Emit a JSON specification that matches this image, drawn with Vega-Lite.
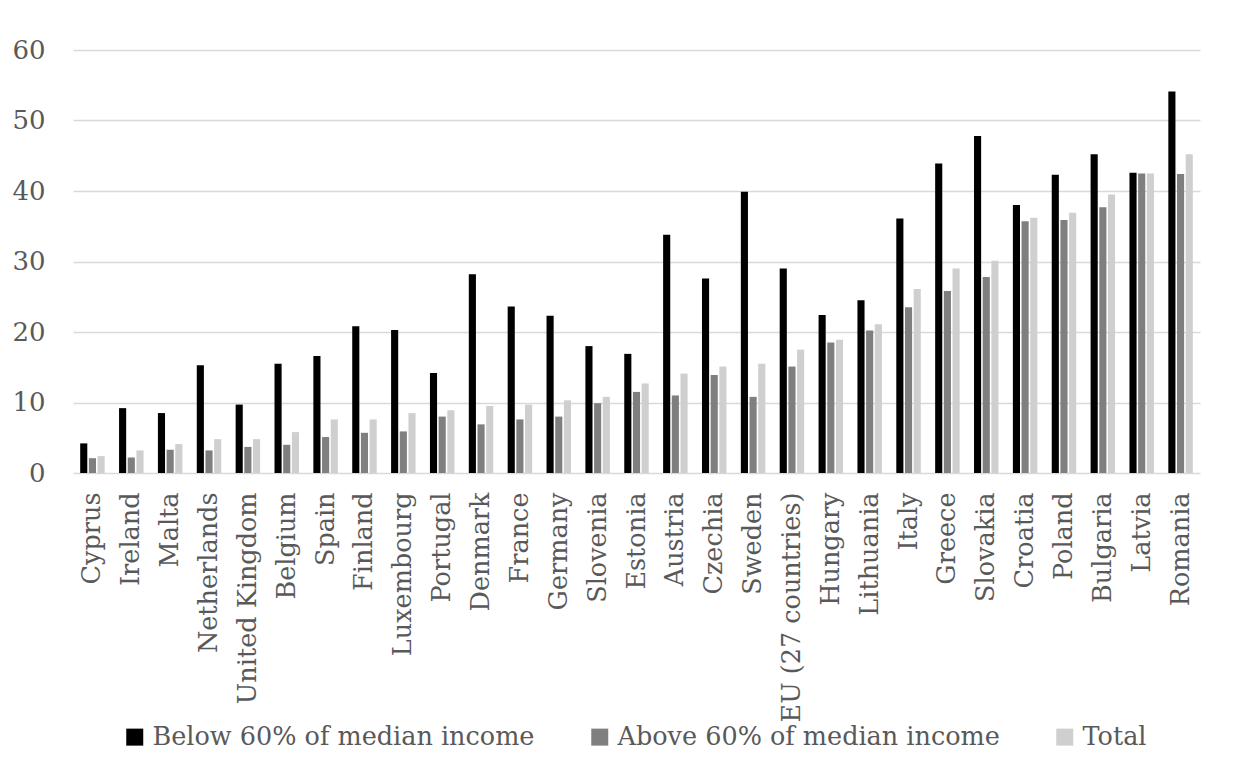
{
  "$schema": "https://vega.github.io/schema/vega-lite/v6.json",
  "width": 1127,
  "height": 423,
  "autosize": {"type": "none"},
  "padding": {"left": 73, "top": 50, "right": 39, "bottom": 306},
  "background": "white",
  "data": {
    "values": [
      {"country": "Cyprus", "Below 60% of median income": 4.2, "Above 60% of median income": 2.1, "Total": 2.4},
      {"country": "Ireland", "Below 60% of median income": 9.2, "Above 60% of median income": 2.2, "Total": 3.2},
      {"country": "Malta", "Below 60% of median income": 8.5, "Above 60% of median income": 3.3, "Total": 4.1},
      {"country": "Netherlands", "Below 60% of median income": 15.3, "Above 60% of median income": 3.2, "Total": 4.8},
      {"country": "United Kingdom", "Below 60% of median income": 9.7, "Above 60% of median income": 3.7, "Total": 4.8},
      {"country": "Belgium", "Below 60% of median income": 15.5, "Above 60% of median income": 4.0, "Total": 5.8},
      {"country": "Spain", "Below 60% of median income": 16.6, "Above 60% of median income": 5.1, "Total": 7.6},
      {"country": "Finland", "Below 60% of median income": 20.8, "Above 60% of median income": 5.7, "Total": 7.6},
      {"country": "Luxembourg", "Below 60% of median income": 20.3, "Above 60% of median income": 5.9, "Total": 8.5},
      {"country": "Portugal", "Below 60% of median income": 14.2, "Above 60% of median income": 8.0, "Total": 8.9},
      {"country": "Denmark", "Below 60% of median income": 28.2, "Above 60% of median income": 6.9, "Total": 9.5},
      {"country": "France", "Below 60% of median income": 23.6, "Above 60% of median income": 7.6, "Total": 9.7},
      {"country": "Germany", "Below 60% of median income": 22.3, "Above 60% of median income": 8.0, "Total": 10.3},
      {"country": "Slovenia", "Below 60% of median income": 18.0, "Above 60% of median income": 9.9, "Total": 10.8},
      {"country": "Estonia", "Below 60% of median income": 16.9, "Above 60% of median income": 11.5, "Total": 12.7},
      {"country": "Austria", "Below 60% of median income": 33.8, "Above 60% of median income": 11.0, "Total": 14.1},
      {"country": "Czechia", "Below 60% of median income": 27.6, "Above 60% of median income": 13.9, "Total": 15.1},
      {"country": "Sweden", "Below 60% of median income": 39.9, "Above 60% of median income": 10.8, "Total": 15.5},
      {"country": "EU (27 countries)", "Below 60% of median income": 29.0, "Above 60% of median income": 15.1, "Total": 17.5},
      {"country": "Hungary", "Below 60% of median income": 22.4, "Above 60% of median income": 18.5, "Total": 18.9},
      {"country": "Lithuania", "Below 60% of median income": 24.5, "Above 60% of median income": 20.2, "Total": 21.1},
      {"country": "Italy", "Below 60% of median income": 36.1, "Above 60% of median income": 23.5, "Total": 26.1},
      {"country": "Greece", "Below 60% of median income": 43.9, "Above 60% of median income": 25.8, "Total": 29.0},
      {"country": "Slovakia", "Below 60% of median income": 47.8, "Above 60% of median income": 27.8, "Total": 30.1},
      {"country": "Croatia", "Below 60% of median income": 38.0, "Above 60% of median income": 35.7, "Total": 36.2},
      {"country": "Poland", "Below 60% of median income": 42.3, "Above 60% of median income": 35.9, "Total": 36.9},
      {"country": "Bulgaria", "Below 60% of median income": 45.2, "Above 60% of median income": 37.7, "Total": 39.5},
      {"country": "Latvia", "Below 60% of median income": 42.6, "Above 60% of median income": 42.5, "Total": 42.5},
      {"country": "Romania", "Below 60% of median income": 54.1, "Above 60% of median income": 42.4, "Total": 45.2}
    ]
  },
  "transform": [
    {"fold": ["Below 60% of median income", "Above 60% of median income", "Total"], "as": ["group", "value"]}
  ],
  "mark": {"type": "bar"},
  "encoding": {
    "x": {
      "field": "country",
      "type": "nominal",
      "sort": null,
      "scale": {"paddingInner": 0.37, "paddingOuter": 0.185},
      "axis": {
        "title": null,
        "labelAngle": -90,
        "labelFont": "DejaVu Serif",
        "labelFontSize": 25.5,
        "labelColor": "#595959",
        "labelPadding": 19,
        "ticks": false,
        "domain": false,
        "labelLimit": 400
      }
    },
    "xOffset": {
      "field": "group",
      "type": "nominal",
      "scale": {"domain": ["Below 60% of median income", "Above 60% of median income", "Total"], "paddingInner": 0.18, "paddingOuter": 0}
    },
    "y": {
      "field": "value",
      "type": "quantitative",
      "scale": {"domain": [0, 60], "nice": false},
      "axis": {
        "title": null,
        "values": [0, 10, 20, 30, 40, 50, 60],
        "labelFont": "DejaVu Serif",
        "labelFontSize": 26,
        "labelColor": "#595959",
        "labelPadding": 28,
        "ticks": false,
        "domain": false,
        "grid": true,
        "gridColor": "#d9d9d9",
        "gridWidth": 1.6
      }
    },
    "color": {
      "field": "group",
      "type": "nominal",
      "scale": {
        "domain": ["Below 60% of median income", "Above 60% of median income", "Total"],
        "range": ["#000000", "#7f7f7f", "#cfcfcf"]
      },
      "legend": {
        "title": null,
        "orient": "none",
        "legendX": 49,
        "legendY": 674,
        "direction": "horizontal",
        "symbolType": "square",
        "symbolSize": 289,
        "symbolStrokeWidth": 0,
        "labelFont": "DejaVu Serif",
        "labelFontSize": 25.5,
        "labelColor": "#595959",
        "labelLimit": 600,
        "columnPadding": 52,
        "labelOffset": 5
      }
    }
  },
  "config": {"view": {"stroke": null}}
}
